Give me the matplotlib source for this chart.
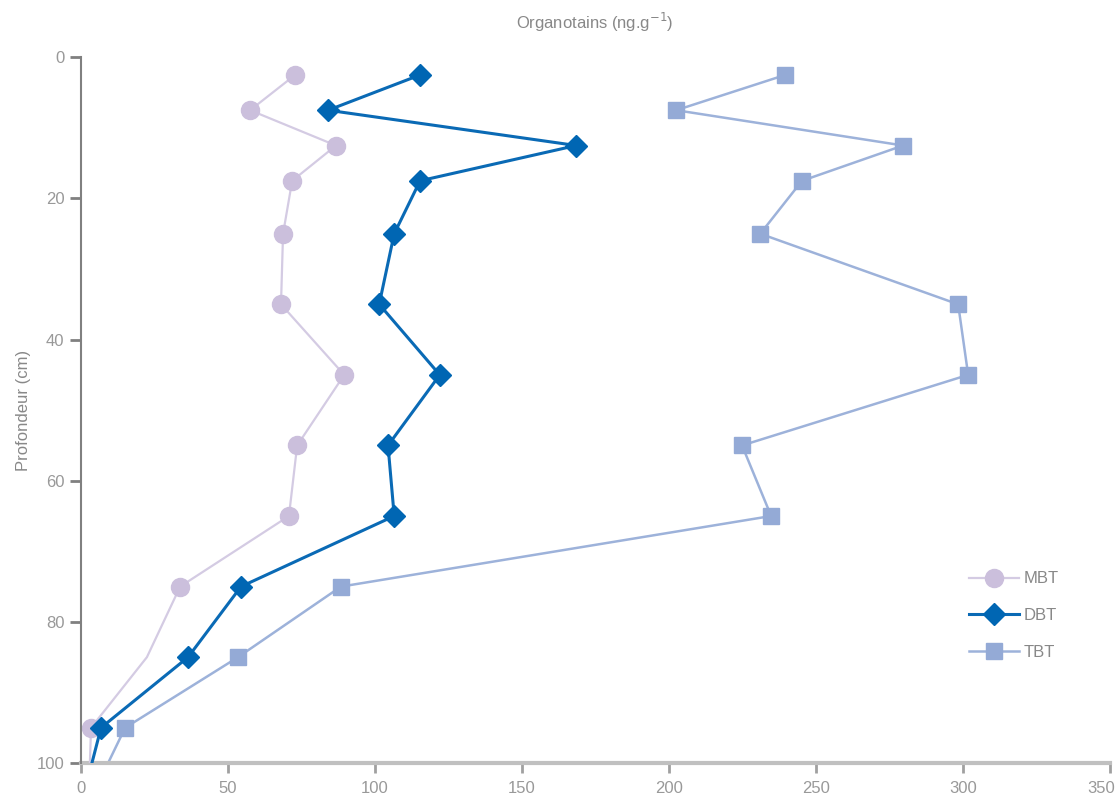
import matplotlib
matplotlib.use("Agg")
import matplotlib.pyplot as plt
import matplotlib.transforms as mtransforms

depth = [2.5, 7.5, 12.5, 17.5, 25, 35, 45, 55, 65, 75, 85, 95, 105]
mbt = [72.8, 57.5, 86.7, 71.8, 68.7, 68.0, 89.5, 73.5, 70.7, 33.7, 22.4, 3.4, 2.6]
dbt = [115.3, 84.0, 168.4, 115.3, 106.5, 101.4, 122.0, 104.4, 106.5, 54.4, 36.4, 6.8, 0.6]
tbt = [239.5, 202.4, 279.6, 245.2, 231.0, 298.3, 301.7, 224.8, 234.7, 88.4, 53.4, 15.0, 3.4]
mbt_marked = [0, 1, 2, 3, 4, 5, 6, 7, 8, 9, 11]
all_marked = list(range(12))

xticks = [0, 50, 100, 150, 200, 250, 300, 350]
yticks = [0, 20, 40, 60, 80, 100]

plt.rcParams['font.family'] = ['Liberation Sans Narrow', 'Liberation Sans', 'DejaVu Sans']

fig = plt.figure(figsize=(11.18, 8.07), dpi=100)
ax = fig.add_axes([0.0725, 0.0545, 0.9205, 0.8745])

ax.plot(mbt, depth, color='#d4cbe3', lw=1.6, marker='o', ms=13, mfc='#cbbfdc', mec='#cbbfdc',
        markevery=mbt_marked, label='MBT', zorder=3)
ax.plot(dbt, depth, color='#0a6ab5', lw=2.2, marker='D', ms=11, mfc='#0066b3', mec='#0066b3',
        markevery=all_marked, label='DBT', zorder=4)
ax.plot(tbt, depth, color='#9db2da', lw=1.8, marker='s', ms=12, mfc='#94aad6', mec='#94aad6',
        markevery=all_marked, label='TBT', zorder=2)

ax.set_xlim(0, 350)
ax.set_ylim(100, 0)
ax.set_xticks(xticks)
ax.set_yticks(yticks)

for s in ['top', 'right']:
    ax.spines[s].set_visible(False)
ax.spines['bottom'].set_color('#c0c0c0')
ax.spines['bottom'].set_linewidth(3)
ax.spines['left'].set_color('#808080')
ax.spines['left'].set_linewidth(1.5)
ax.spines['left'].set_zorder(5)

ax.tick_params(axis='x', colors='#a0a0a0', length=7, width=2, labelsize=12, labelcolor='#999999', pad=6)
ax.tick_params(axis='y', colors='#808080', length=8, width=2, labelsize=12, labelcolor='#999999', pad=4)

# keep the last x tick label inside the figure
last = ax.get_xticklabels()[-1]
last.set_transform(last.get_transform() + mtransforms.ScaledTranslation(-0.09, 0, fig.dpi_scale_trans))

ax.set_ylabel('Profondeur (cm)', fontsize=12, color='#888888', labelpad=4)
fig.text(0.532, 0.972, 'Organotains (ng.g$^{-1}$)', ha='center', va='center', fontsize=12, color='#888888')

leg = ax.legend(loc='lower right', bbox_to_anchor=(0.965, 0.125), frameon=False, fontsize=12,
                labelspacing=1.3, handlelength=3, handletextpad=0.3, numpoints=1)
for t in leg.get_texts():
    t.set_color('#888888')

fig.savefig('out.png', dpi=100)
